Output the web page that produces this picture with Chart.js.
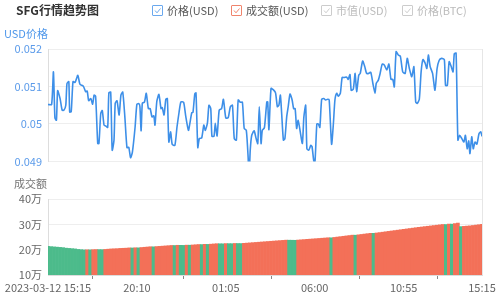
<!DOCTYPE html>
<html><head><meta charset="utf-8">
<script src="https://cdn.jsdelivr.net/npm/chart.js@4/dist/chart.umd.min.js"></script>
<style>
html,body{margin:0;padding:0;background:#fff;}
#wrap{position:relative;width:500px;height:300px;overflow:hidden;font-family:"Noto Sans CJK SC","Noto Sans",sans-serif;}
canvas{position:absolute;left:0;top:0;}
.title{position:absolute;left:16px;top:1px;font-size:12px;font-weight:bold;color:#333;line-height:18px;}
.lg{position:absolute;top:2px;height:16px;display:flex;align-items:center;font-size:11px;line-height:16px;}
.cb{display:inline-block;width:9px;height:9px;border:1px solid;border-radius:1px;margin-right:4px;position:relative;}
.cb svg{position:absolute;left:0;top:0;}
.axt{position:absolute;font-size:11px;line-height:14px;}
.rline{position:absolute;left:482px;top:49px;width:1px;height:226px;background:#e6e6e6;}
</style></head>
<body><div id="wrap">
<canvas id="price" width="500" height="300"></canvas>
<canvas id="vol" width="500" height="300"></canvas>
<div class="rline"></div>
<div class="title">SFG行情趋势图</div>
<div id="legend"></div>
<div class="axt" style="left:4px;top:26px;color:#4e97ea;">USD价格</div>
<div class="axt" style="left:14px;top:176px;color:#777;">成交额</div>
</div>
<script>
// ---- data ----
const legendNames = ["价格(USD)", "成交额(USD)", "市值(USD)", "价格(BTC)"];
const legendActive = [true, true, false, false];

// minutes after 2023-03-12 15:15
const priceMinutes = [
0,12,18,23,28,32,40,47,53,59,
63,69,72,77,83,90,99,106,117,125,
130,135,142,148,153,158,165,169,175,180,
186,191,198,202,208,213,219,223,229,236,
242,248,255,262,268,274,280,289,295,302,
305,309,313,320,326,333,339,345,351,355,
361,368,375,379,385,391,396,401,407,412,
421,428,435,441,450,457,466,471,477,481,
487,491,497,502,510,517,522,529,534,540,
544,551,555,561,568,576,582,590,598,605,
612,618,625,631,638,645,651,658,664,667,
671,676,684,690,696,701,707,711,718,726,
729,733,740,748,755,761,766,771,775,781,
786,792,797,803,810,815,820,825,830,837,
844,849,855,859,865,872,876,882,886,892,
897,902,908,915,921,928,933,941,947,952,
958,963,970,976,983,991,996,1002,1006,1013,
1019,1024,1031,1036,1044,1051,1057,1064,1071,1078,
1085,1089,1096,1102,1109,1116,1124,1131,1138,1144,
1149,1155,1162,1169,1177,1185,1192,1199,1207,1214,
1220,1225,1232,1238,1244,1251,1257,1262,1268,1276,
1284,1291,1298,1306,1315,1319,1325,1331,1338,1344,
1348,1354,1360,1366,1373,1380,1385,1391,1396,1400,
1406,1411,1417,1423,1430,1436,1440
];
const priceValues = [
0.05052,0.05052,0.05139,0.05016,0.0501,0.05089,0.05068,0.05037,0.05037,0.0505,
0.05108,0.05113,0.05032,0.05033,0.05113,0.05111,0.0513,0.05106,0.05101,0.05086,
0.05088,0.05062,0.05068,0.05053,0.05077,0.05074,0.04948,0.04948,0.05028,0.05036,
0.04997,0.04995,0.04991,0.05083,0.05085,0.0493,0.04957,0.05055,0.05062,0.05024,
0.05077,0.05085,0.05019,0.04937,0.04938,0.0491,0.04925,0.04992,0.05053,0.05054,
0.05046,0.04982,0.05056,0.05058,0.05082,0.05041,0.05041,0.05019,0.05022,0.04997,
0.0506,0.05079,0.05041,0.05044,0.05024,0.05066,0.05068,0.04952,0.04979,0.04946,
0.04943,0.04992,0.05032,0.05059,0.05058,0.05021,0.04983,0.05003,0.0503,0.05031,
0.0508,0.05083,0.04937,0.04961,0.04963,0.04997,0.04983,0.05003,0.0505,0.05041,
0.04967,0.04968,0.05002,0.04968,0.05037,0.05041,0.05066,0.05016,0.05017,0.05046,
0.0505,0.04961,0.04957,0.05064,0.05058,0.05058,0.04988,0.04983,0.04912,0.04855,
0.0493,0.0497,0.04982,0.04963,0.04948,0.05046,0.04948,0.04983,0.0499,0.05059,
0.05059,0.04985,0.05095,0.05091,0.05083,0.05046,0.0505,0.05077,0.05032,0.04957,
0.04961,0.05019,0.05046,0.0508,0.05064,0.05041,0.05041,0.04988,0.0501,0.04979,
0.04948,0.05019,0.0505,0.04934,0.0493,0.04943,0.0494,0.04901,0.04901,0.05,
0.05,0.04991,0.05066,0.05068,0.05064,0.05066,0.05064,0.04946,0.05002,0.05064,
0.05082,0.05074,0.05082,0.05124,0.05124,0.05125,0.05119,0.05132,0.0509,0.05093,
0.05135,0.05086,0.0513,0.05135,0.05168,0.05153,0.05135,0.05135,0.05138,0.05108,
0.05082,0.05108,0.05117,0.05135,0.0516,0.05157,0.05144,0.0516,0.05119,0.05119,
0.05099,0.05193,0.05184,0.05181,0.05139,0.05135,0.05175,0.05148,0.05126,0.05153,
0.05059,0.05055,0.05066,0.05139,0.05172,0.05163,0.05148,0.05184,0.05153,0.05135,
0.0509,0.05148,0.0517,0.05175,0.05172,0.05103,0.05103,0.05166,0.05153,0.05139,
0.05187,0.05189,0.04957,0.0497,0.04961,0.04952,0.0497,0.04934,0.04955,0.04921,
0.04966,0.04934,0.04952,0.04946,0.04974,0.04979,0.04967
];

// 24h volume (USD), one bar every 10 minutes
const volumeStepMinutes = 10;
const openingVolume = 214000;
const volumes = [
213000,212000,211000,210000,209000,208000,206000,205000,204000,203000,
201000,200000,199000,199500,199200,200000,200500,200200,200000,201000,
202000,203000,203500,204000,205000,205500,206000,207000,206700,207500,
207200,208500,209500,210500,211500,211200,212200,213000,213900,214800,
215700,216600,216400,217300,217100,216900,217800,217600,218500,219400,
220300,220100,221000,220800,221700,222600,223500,223300,223100,224000,
223800,223600,224500,224300,224100,225000,225900,226800,227700,228600,
229500,230400,231300,232200,233100,234000,234900,235800,236700,237600,
237400,237200,237000,238000,238900,239800,240700,241600,242500,243400,
244300,245200,246100,247000,246800,248300,249800,251300,252800,254300,
255800,257300,257100,258600,260100,261600,263100,264600,264400,265800,
267400,269000,270600,272200,273800,275400,277000,278600,280200,281800,
283400,285000,286600,288100,289500,291000,292400,293800,295200,296600,
298000,299400,299200,301000,300800,303000,305000,291000,292000,293000,
294000,295500,297000,298500,300000
];

const tickMinutes = [0, 295, 590, 885, 1180, 1440];
const tickLabels = ["2023-03-12 15:15", "20:10", "01:05", "06:00", "10:55", "15:15"];
const markMinutes = [149, 448, 740, 1032, 1291];

const priceRange = [0.049, 0.052, 0.001];
const volumeRange = [100000, 400000, 100000];

// ---- legend ----
const legendColors = ["#6aa8ee", "#f0846c", "#cccccc", "#cccccc"];
const legendLeft = [152, 231, 321, 402];
const lg = document.getElementById('legend');
legendNames.forEach((n, i) => {
  const d = document.createElement('div');
  d.className = 'lg';
  d.style.left = legendLeft[i] + 'px';
  const c = legendColors[i];
  d.innerHTML = '<span class="cb" style="border-color:' + c + '"><svg width="9" height="9"><polyline points="2,4.5 4,6.8 7.5,2.5" fill="none" stroke="' + c + '" stroke-width="1"/></svg></span>' +
    '<span style="color:' + (legendActive[i] ? '#555' : '#bbb') + '">' + n + '</span>';
  lg.appendChild(d);
});

// ---- charts ----
Chart.defaults.font.family = '"Noto Sans CJK SC","Noto Sans",sans-serif';
Chart.defaults.font.size = 11;

new Chart(document.getElementById('price'), {
  type: 'line',
  data: { datasets: [{
    data: priceMinutes.map((m, i) => ({ x: m, y: priceValues[i] })),
    borderColor: '#3d8fe8', borderWidth: 1.6, pointRadius: 0, tension: 0.2, fill: false
  }]},
  options: {
    responsive: false, animation: false,
    layout: { padding: { top: 49, right: 18, bottom: 138.5, left: 0 } },
    plugins: { legend: { display: false }, tooltip: { enabled: false } },
    scales: {
      x: { type: 'linear', min: 0, max: 1440, display: false },
      y: {
        min: priceRange[0], max: priceRange[1],
        afterFit(s) { s.width = 48; },
        ticks: { stepSize: priceRange[2], color: '#5b9bea', padding: 6,
          callback: v => String(+v.toFixed(3)) },
        grid: { color: '#eeeeee', drawTicks: false },
        border: { color: '#dddddd' }
      }
    }
  }
});

const barColors = volumes.map((v, i) => {
  const prev = i === 0 ? openingVolume : volumes[i - 1];
  return v < prev ? '#4cbb8b' : '#f37058';
});

new Chart(document.getElementById('vol'), {
  type: 'bar',
  data: { datasets: [{
    data: volumes.map((v, i) => ({ x: i * volumeStepMinutes, y: v })),
    backgroundColor: barColors, borderWidth: 0,
    barPercentage: 1, categoryPercentage: 1
  }]},
  options: {
    responsive: false, animation: false,
    layout: { padding: { top: 199, right: 18, bottom: 0, left: 0 } },
    plugins: { legend: { display: false }, tooltip: { enabled: false } },
    scales: {
      x: {
        type: 'linear', min: 0, max: 1440, position: 'bottom', weight: 1, offset: false,
        afterBuildTicks(s) { s.ticks = tickMinutes.map(v => ({ value: v })); },
        afterFit(s) { s.height = 20; },
        ticks: { autoSkip: false, maxRotation: 0, color: '#666', padding: 1,
          callback: (v, i) => tickLabels[i] },
        grid: { display: false, drawTicks: false, offset: false },
        border: { display: false }
      },
      x2: {
        type: 'linear', min: 0, max: 1440, position: 'bottom', weight: 0, offset: false,
        afterBuildTicks(s) { s.ticks = markMinutes.map(v => ({ value: v })); },
        afterFit(s) { s.height = 5; },
        ticks: { display: false },
        grid: { drawOnChartArea: false, tickLength: 4, color: '#888', offset: false },
        border: { color: '#dddddd' }
      },
      y: {
        min: volumeRange[0], max: volumeRange[1],
        afterFit(s) { s.width = 48; },
        ticks: { stepSize: volumeRange[2], color: '#666', padding: 6,
          callback: v => (v / 10000) + '万' },
        grid: { color: '#eeeeee', drawTicks: false },
        border: { color: '#dddddd' }
      }
    }
  }
});
</script>
</body></html>
